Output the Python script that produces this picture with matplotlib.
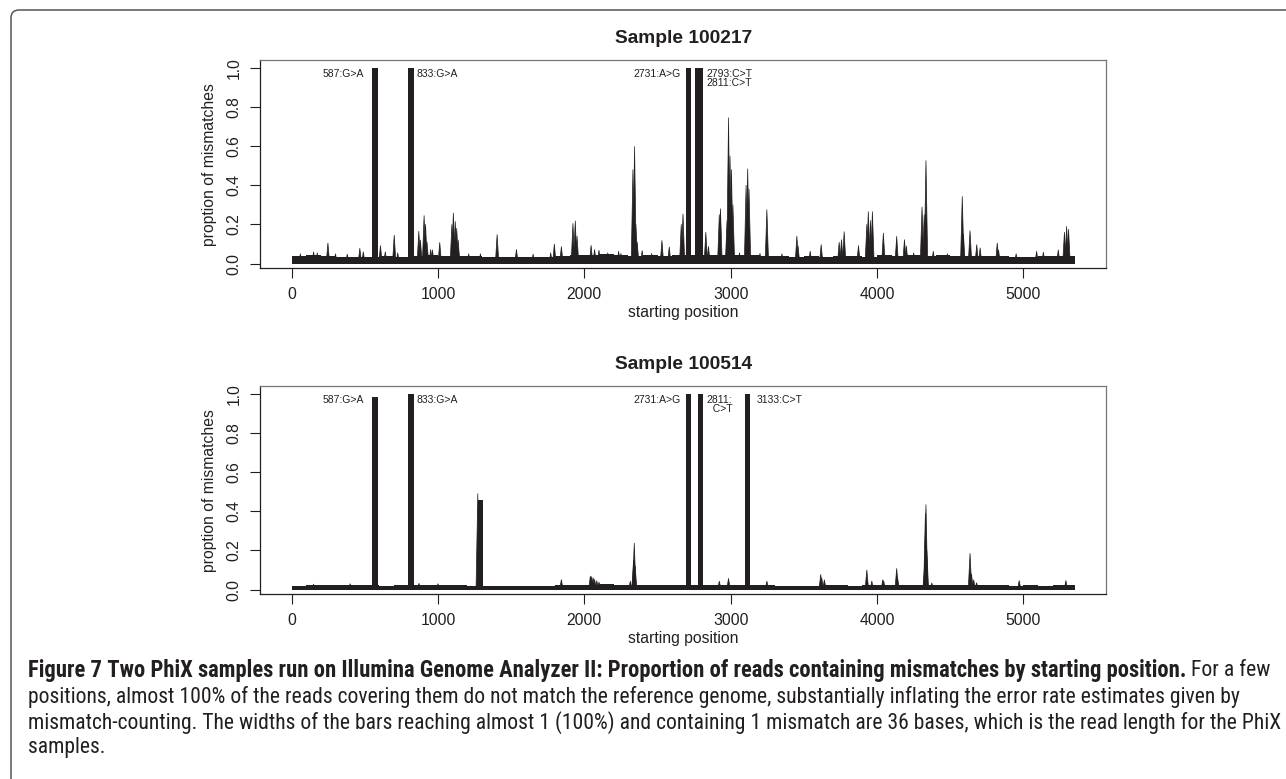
import numpy as np
import matplotlib.pyplot as plt
from matplotlib import font_manager
from matplotlib.collections import PolyCollection
from matplotlib.patches import FancyBboxPatch

# ---------------- data ----------------
read_len = 36
genome_end = 5352

floor_bins = list(range(0, 5400, 100))  # left edge of each 100-base window

# noise floor of the mismatch proportion, one value per 100-base window
top_floor = [0.041, 0.043, 0.040, 0.036, 0.035, 0.036, 0.037, 0.036, 0.040, 0.042,
             0.038, 0.040, 0.037, 0.035, 0.034, 0.035, 0.034, 0.036, 0.040, 0.042,
             0.045, 0.048, 0.044, 0.040, 0.042, 0.041, 0.045, 0.046, 0.044, 0.042,
             0.045, 0.043, 0.040, 0.037, 0.036, 0.038, 0.036, 0.037, 0.038, 0.036,
             0.042, 0.040, 0.044, 0.040, 0.042, 0.039, 0.041, 0.040, 0.038, 0.036,
             0.036, 0.037, 0.038, 0.040]
bot_floor = [0.020, 0.021, 0.024, 0.024, 0.022, 0.021, 0.020, 0.021, 0.025, 0.026,
             0.024, 0.022, 0.020, 0.018, 0.020, 0.019, 0.020, 0.020, 0.021, 0.022,
             0.022, 0.028, 0.022, 0.021, 0.022, 0.021, 0.022, 0.021, 0.024, 0.026,
             0.026, 0.022, 0.021, 0.020, 0.020, 0.020, 0.022, 0.021, 0.020, 0.021,
             0.022, 0.021, 0.022, 0.021, 0.022, 0.021, 0.025, 0.022, 0.021, 0.020,
             0.021, 0.020, 0.021, 0.022]

# sharp spikes above the floor (starting position, proportion)
top_spike_pos = [60, 150, 175, 248, 300, 380, 466, 490, 607, 640, 701, 725, 869, 880, 905,
                 915, 925, 950, 962, 1012, 1095, 1105, 1118, 1128, 1138, 1210, 1290, 1404,
                 1536, 1650, 1770, 1795, 1843, 1922, 1938, 1950, 2046, 2070, 2100, 2160,
                 2234, 2250, 2332, 2343, 2352, 2361, 2395, 2460, 2530, 2580, 2662, 2674,
                 2830, 2848, 2922, 2930, 2975, 2985, 2995, 3005, 3015, 3060, 3105, 3116,
                 3125, 3200, 3247, 3350, 3452, 3460, 3543, 3618, 3741, 3757, 3775, 3873,
                 3930, 3940, 3955, 3968, 4043, 4134, 4187, 4200, 4250, 4307, 4322, 4334,
                 4384, 4480, 4582, 4590, 4635, 4681, 4704, 4821, 4830, 4950, 5090, 5136,
                 5238, 5280, 5295, 5308]
top_spike_val = [0.050, 0.060, 0.055, 0.105, 0.050, 0.048, 0.078, 0.060, 0.092, 0.060,
                 0.145, 0.055, 0.165, 0.120, 0.245, 0.200, 0.110, 0.072, 0.070, 0.108,
                 0.200, 0.258, 0.215, 0.180, 0.120, 0.050, 0.050, 0.148, 0.072, 0.048,
                 0.055, 0.100, 0.087, 0.205, 0.218, 0.140, 0.093, 0.072, 0.068, 0.055,
                 0.063, 0.052, 0.480, 0.598, 0.200, 0.110, 0.066, 0.052, 0.118, 0.085,
                 0.200, 0.253, 0.160, 0.088, 0.250, 0.280, 0.220, 0.745, 0.550, 0.480,
                 0.300, 0.055, 0.400, 0.484, 0.380, 0.052, 0.275, 0.050, 0.140, 0.090,
                 0.063, 0.097, 0.109, 0.122, 0.163, 0.092, 0.200, 0.265, 0.220, 0.265,
                 0.156, 0.139, 0.122, 0.090, 0.055, 0.289, 0.250, 0.526, 0.063, 0.050,
                 0.343, 0.150, 0.168, 0.097, 0.080, 0.105, 0.070, 0.050, 0.063, 0.058,
                 0.070, 0.160, 0.190, 0.175]

bot_spike_pos = [150, 400, 870, 1000, 1272, 1843, 2041, 2050, 2060, 2070, 2085, 2100,
                 2314, 2336, 2341, 2347, 2922, 2985, 3247, 3615, 3622, 3640, 3930,
                 3964, 4039, 4045, 4134, 4140, 4325, 4330, 4334, 4340, 4374, 4635,
                 4645, 4660, 4680, 4971, 5290]
bot_spike_val = [0.028, 0.030, 0.032, 0.030, 0.490, 0.051, 0.069, 0.066, 0.060, 0.052,
                 0.045, 0.038, 0.043, 0.150, 0.237, 0.120, 0.043, 0.057, 0.043, 0.077,
                 0.060, 0.050, 0.100, 0.043, 0.050, 0.045, 0.108, 0.060, 0.130, 0.390,
                 0.434, 0.200, 0.034, 0.185, 0.080, 0.050, 0.035, 0.046, 0.046]

# mismatch positions: every read starting in the 36 bases before them
top_bar_pos = [587, 833, 2731, 2793, 2811]
top_bar_val = [1.0, 1.0, 1.0, 1.0, 1.0]
bot_bar_pos = [587, 833, 1305, 2731, 2811, 3133]
bot_bar_val = [0.985, 1.0, 0.46, 1.0, 1.0, 1.0]

top_labels = ["587:G>A", "833:G>A", "2731:A>G", "2793:C>T\n2811:C>T"]
bot_labels = ["587:G>A", "833:G>A", "2731:A>G", "2811:\n  C>T", "3133:C>T"]

titles = ["Sample 100217", "Sample 100514"]
x_ticks = [0, 1000, 2000, 3000, 4000, 5000]
y_ticks = [0.0, 0.2, 0.4, 0.6, 0.8, 1.0]

# label anchors: (x, side) -- layout only
top_label_at = [(494, "right"), (853, "left"), (2660, "right"), (2837, "left")]
bot_label_at = [(494, "right"), (853, "left"), (2660, "right"), (2837, "left"), (3178, "left")]

caption_bold = ("Figure 7 Two PhiX samples run on Illumina Genome Analyzer II: Proportion "
                "of reads containing mismatches by starting position.")
caption_lines = [" For a few",
                 "positions, almost 100% of the reads covering them do not match the reference "
                 "genome, substantially inflating the error rate estimates given by",
                 "mismatch-counting. The widths of the bars reaching almost 1 (100%) and "
                 "containing 1 mismatch are 36 bases, which is the read length for the PhiX",
                 "samples."]

# ---------------- drawing ----------------
ink = "#231f20"
plt.rcParams["font.family"] = ["Liberation Sans", "DejaVu Sans"]

W, H = 1286, 779
fig = plt.figure(figsize=(W / 100, H / 100), dpi=100)


def draw_panel(ax, floor, spike_pos, spike_val, bar_pos, bar_val, labels, label_at, title):
    edges = floor_bins + [genome_end]
    ax.fill_between(edges, floor + [floor[-1]], step="post", color=ink, lw=0)
    hw = 12
    verts = [[(p - hw, 0), (p, v), (p + hw, 0)] for p, v in zip(spike_pos, spike_val)]
    ax.add_collection(PolyCollection(verts, facecolor=ink, edgecolor=ink, lw=0.5))
    ax.bar([p - read_len + 1 for p in bar_pos], bar_val, width=read_len,
           align="edge", color=ink, lw=0)
    for text, (x, side) in zip(labels, label_at):
        ax.text(x, 0.995, text, ha=side, va="top", fontsize=7.5, color=ink,
                linespacing=0.95)
    ax.set_xlim(-214, 5564)
    ax.set_ylim(-0.024, 1.04)
    ax.set_xticks(x_ticks)
    ax.set_xticklabels([str(t) for t in x_ticks])
    ax.set_yticks(y_ticks)
    ax.set_yticklabels([f"{t:.1f}" for t in y_ticks], rotation=90, va="center")
    ax.tick_params(direction="out", length=7, width=0.8, color=ink, labelcolor=ink,
                   labelsize=11.3, pad=6.5)
    ax.spines["left"].set_color(ink)
    ax.spines["bottom"].set_color(ink)
    ax.spines["top"].set_color("#777777")
    ax.spines["right"].set_color("#777777")
    for s in ax.spines.values():
        s.set_linewidth(0.9)
    ax.set_xlabel("starting position", fontsize=11.3, color=ink, labelpad=2)
    ax.set_ylabel("proption of mismatches", fontsize=11.3, color=ink, labelpad=7)
    ax.set_title(title, fontsize=13.8, fontweight="bold", color=ink, pad=12)


ax1 = fig.add_axes([260.3 / W, 1 - 268.3 / H, 845.7 / W, 208.3 / H])
ax2 = fig.add_axes([260.3 / W, 1 - 594.3 / H, 845.7 / W, 208.3 / H])
draw_panel(ax1, top_floor, top_spike_pos, top_spike_val, top_bar_pos, top_bar_val,
           top_labels, top_label_at, titles[0])
draw_panel(ax2, bot_floor, bot_spike_pos, bot_spike_val, bot_bar_pos, bot_bar_val,
           bot_labels, bot_label_at, titles[1])

# rounded frame: only the top and left edges are visible
frame = FancyBboxPatch((0.11, -1.0), 20, 8.69, boxstyle="round,pad=0,rounding_size=0.08",
                       transform=fig.dpi_scale_trans, fill=False, ec="#555555", lw=1.1)
fig.patches.append(frame)

# caption in a narrow face if one is available
cap_family = "Liberation Sans"
for name in ["Liberation Sans Narrow", "DejaVu Sans Condensed", "Roboto Condensed",
             "Open Sans Condensed"]:
    try:
        font_manager.findfont(name, fallback_to_default=False)
        cap_family = name
        break
    except Exception:
        pass

renderer = fig.canvas.get_renderer()


def fit_size(text, target_px, **kw):
    probe = fig.text(0, 0, text, fontsize=10, family=cap_family, **kw)
    w = probe.get_window_extent(renderer).width
    probe.remove()
    return 10 * target_px / w


cap_size = fit_size(caption_lines[2], 1275 - 28)
bold_size = fit_size(caption_bold, 1188 - 28, fontweight="bold")

line_y = [671, 697, 722.5, 748]
bold = fig.text(28 / W, 1 - line_y[0] / H, caption_bold, fontsize=bold_size,
                family=cap_family, fontweight="bold", color=ink, va="center")
fig.canvas.draw()
bb = bold.get_window_extent(renderer)
fig.text(bb.x1 / W, 1 - line_y[0] / H, caption_lines[0], fontsize=cap_size,
         family=cap_family, color=ink, va="center")
for line, y in zip(caption_lines[1:], line_y[1:]):
    fig.text(28 / W, 1 - y / H, line, fontsize=cap_size, family=cap_family, color=ink,
             va="center")

fig.savefig("out.png", dpi=100)
